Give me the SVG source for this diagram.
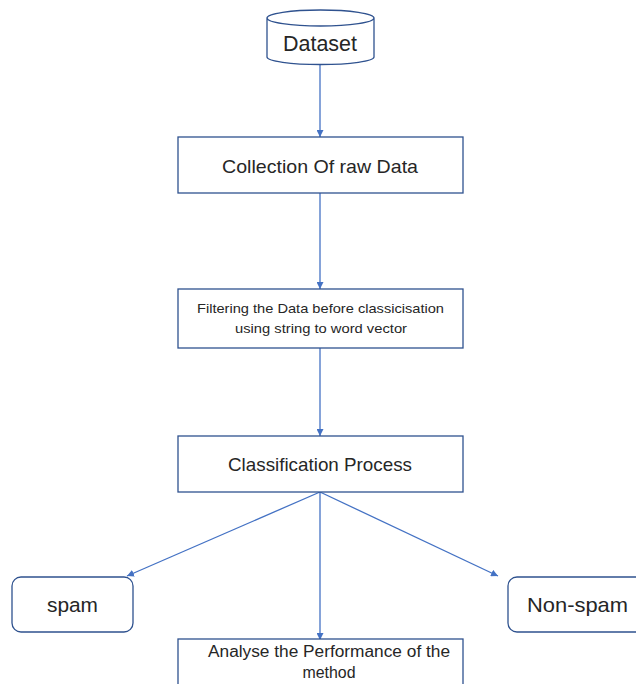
<svg xmlns="http://www.w3.org/2000/svg" width="636" height="684" viewBox="0 0 636 684">
<defs>
<style>
.box{fill:#fff;stroke:#2F528F;stroke-width:1.3}
.t{font-family:"Liberation Sans",Arial,sans-serif;fill:#262626;text-anchor:middle}
.c{stroke:#4472C4;stroke-width:1.3;fill:none;marker-end:url(#ah)}
</style>
<marker id="ah" viewBox="0 0 10 10" refX="10" refY="5" markerWidth="7" markerHeight="7" markerUnits="userSpaceOnUse" orient="auto">
<path d="M0,0 L10,5 L0,10 z" fill="#4472C4"/>
</marker>
</defs>
<rect width="636" height="684" fill="#fff"/>
<g id="connectors">
<line class="c" x1="320" y1="64" x2="320" y2="137"/>
<line class="c" x1="320" y1="193" x2="320" y2="289"/>
<line class="c" x1="320" y1="348" x2="320" y2="436"/>
<line class="c" x1="320" y1="492" x2="127" y2="576"/>
<line class="c" x1="320" y1="492" x2="498" y2="576"/>
<line class="c" x1="320" y1="492" x2="320" y2="640"/>
</g>
<g id="dataset">
<path class="box" d="M267,18 L267,57 A53.5,7.5 0 0 0 374,57 L374,18 A53.5,8 0 0 0 267,18 A53.5,8 0 0 0 374,18"/>
<text class="t" x="320" y="51" font-size="21.5" textLength="74" lengthAdjust="spacingAndGlyphs">Dataset</text>
</g>
<g id="collection">
<rect class="box" x="178" y="137" width="285" height="56"/>
<text class="t" x="320" y="173" font-size="19" textLength="196" lengthAdjust="spacingAndGlyphs">Collection Of raw Data</text>
</g>
<g id="filtering">
<rect class="box" x="178" y="289" width="285" height="59"/>
<text class="t" x="320.5" y="313" font-size="13.5" textLength="247" lengthAdjust="spacingAndGlyphs">Filtering the Data before classicisation</text>
<text class="t" x="321" y="333" font-size="13.5" textLength="172" lengthAdjust="spacingAndGlyphs">using string to word vector</text>
</g>
<g id="classification">
<rect class="box" x="178" y="436" width="285" height="56"/>
<text class="t" x="320" y="471" font-size="18.5" textLength="184" lengthAdjust="spacingAndGlyphs">Classification Process</text>
</g>
<g id="spam">
<rect class="box" x="12" y="577" width="121" height="55" rx="9"/>
<text class="t" x="72.5" y="612" font-size="20.5" textLength="51" lengthAdjust="spacingAndGlyphs">spam</text>
</g>
<g id="nonspam">
<rect class="box" x="508" y="577" width="140" height="55" rx="9"/>
<text class="t" x="577.5" y="612" font-size="21" textLength="101" lengthAdjust="spacingAndGlyphs">Non-spam</text>
</g>
<g id="analyse">
<rect class="box" x="178" y="639" width="285" height="60"/>
<text class="t" x="329" y="657" font-size="16" textLength="242" lengthAdjust="spacingAndGlyphs">Analyse the Performance of the</text>
<text class="t" x="329" y="678" font-size="16" textLength="53" lengthAdjust="spacingAndGlyphs">method</text>
</g>
</svg>
